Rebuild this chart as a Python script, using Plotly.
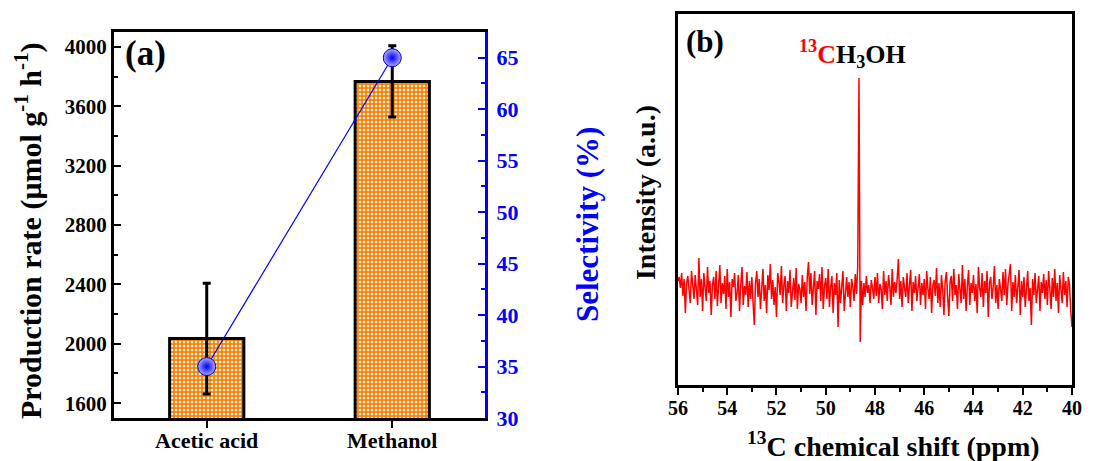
import plotly.graph_objects as go

# ---------------- Data ----------------
categories = ["Acetic acid", "Methanol"]
production_rate = [2035, 3767]
production_err = [373, 240]
selectivity = [35, 65]

left_ticks = [1600, 2000, 2400, 2800, 3200, 3600, 4000]
right_ticks = [30, 35, 40, 45, 50, 55, 60, 65]
shift_ticks = [56, 54, 52, 50, 48, 46, 44, 42, 40]

# NMR spectrum: chemical shift (ppm), step 0.05 from 56 to 40
shift_start = 56.0
shift_step = -0.05
intensity = [
    10, 14, 3, 18, -5, 12, -22, 8, 15, 2, -12, 20, 6, -8, 16, 4, -14, 33, -6, 12,
    -20, 18, 5, -10, 24, -2, 10, -24, 6, 14, -8, 20, -15, 3, 26, -12, 8, -3, 15, -18,
    22, -6, 9, -26, 12, 4, 18, -10, -2, 16, -20, 7, 24, -14, 5, -4, 19, -16, 10, -8,
    14, -12, -34, 8, 20, -6, 12, -18, 3, 22, -10, 6, -22, 16, 1, 27, -8, 11, -14, 4,
    -26, 18, 9, -4, 25, -12, 6, 15, -20, 10, -2, 21, -16, 4, 13, -9, 23, -18, 7, 2,
    -12, 16, -6, 9, -20, 14, 29, -3, 18, -14, 6, 20, -24, 10, 2, 17, -10, 24, -18, 5,
    13, -8, 22, -16, 4, 15, -22, 8, -4, 18, -36, 11, -12, 6, 20, -20, 3, 14, -6, 9,
    -16, 12, 4, -10, 17, -3, 25, 213, -51, 10, -14, 8, -6, 15, -2, 6, -12, 11, 3, -8,
    14, -5, 18, -12, 7, 2, -18, 20, -4, 10, -10, 16, 4, -14, 22, -6, 9, -2, 12, 32,
    -8, 10, -16, 14, 3, -6, 18, -12, 6, 21, -20, 9, -2, 15, -10, 4, 17, -14, 8, -4,
    12, -18, 20, 2, -8, 14, -22, 6, 11, -5, 23, -12, 8, -16, 16, 1, -24, 10, 19, -6,
    -25, 9, 15, -10, 22, -4, 6, -18, 17, 2, -12, 26, -8, 12, -20, 5, 21, -14, 8, -2,
    16, -10, 7, -22, 24, 3, -6, 18, -16, 10, -2, 20, -26, 8, 14, -8, 4, 25, -12, 6,
    -18, 12, 2, -10, 19, -4, 22, -14, 7, 15, 27, -20, 9, -6, 16, -12, 4, 21, -24, 10,
    -6, 14, -16, 8, 20, -10, 3, -34, 12, -4, 18, -12, 6, 15, -20, 9, -2, 17, -8, 11,
    -14, 20, 2, -18, 13, -6, 22, -10, 8, -22, 16, 4, -12, 19, -4, 10, -16, 14, 6, -20,
    -36,
]
shift = [round(shift_start + shift_step * i, 3) for i in range(len(intensity))]

FONT = "Liberation Serif"
BLUE = "#0000FF"

fig = go.Figure()

# Panel (a): bars with error bars
fig.add_trace(go.Bar(
    x=[0, 1], y=production_rate, width=0.4,
    marker=dict(
        color="#FF8000",
        line=dict(color="black", width=3),
        pattern=dict(shape=".", fillmode="replace", bgcolor="#FF8000",
                     fgcolor="white", size=4, solidity=0.3),
    ),
    error_y=dict(type="data", array=production_err, color="black",
                 thickness=3, width=4),
    xaxis="x", yaxis="y", showlegend=False,
))

# Selectivity line
fig.add_trace(go.Scatter(
    x=[0, 1], y=selectivity, mode="lines+markers",
    line=dict(color=BLUE, width=1.2),
    marker=dict(size=18, color="#A8A8FF",
                gradient=dict(type="radial", color="#0000F0"),
                line=dict(width=1, color="#0000C0")),
    xaxis="x", yaxis="y2", showlegend=False,
))

# Panel (b): NMR spectrum
fig.add_trace(go.Scatter(
    x=shift, y=intensity, mode="lines",
    line=dict(color="#FF0000", width=1.5),
    xaxis="x2", yaxis="y3", showlegend=False,
))

tickfont = dict(family=FONT, size=21, color="black", weight="bold")

fig.update_layout(
    width=1105, height=453,
    margin=dict(l=0, r=0, t=0, b=0, pad=0, autoexpand=False),
    paper_bgcolor="white", plot_bgcolor="white",
    font=dict(family=FONT, color="black"),
    xaxis=dict(
        domain=[0.0959, 0.4317], range=[-0.5, 1.5], automargin=False,
        tickvals=[0, 1], ticktext=categories,
        ticks="outside", ticklen=7, tickwidth=2, tickcolor="black",
        ticklabelstandoff=-6,
        tickfont=dict(family=FONT, size=22, color="black", weight="bold"),
        showline=True, linecolor="black", linewidth=3, mirror=True,
        showgrid=False, zeroline=False, fixedrange=True,
        anchor="y",
    ),
    yaxis=dict(
        domain=[0.0949, 0.947], range=[1500, 4100], automargin=False,
        tickvals=left_ticks,
        ticks="inside", ticklen=7, tickwidth=2, tickcolor="black",
        minor=dict(tickvals=[1800, 2200, 2600, 3000, 3400, 3800],
                   ticks="inside", ticklen=4, tickwidth=2, tickcolor="black"),
        tickfont=tickfont,
        showline=True, linecolor="black", linewidth=3,
        showgrid=False, zeroline=False, anchor="x",
    ),
    yaxis2=dict(
        overlaying="y", side="right", anchor="x", automargin=False,
        range=[30, 67.5], tickvals=right_ticks,
        ticks="inside", ticklen=7, tickwidth=2, tickcolor=BLUE,
        ticklabelstandoff=4,
        minor=dict(dtick=2.5, tick0=0, ticks="inside", ticklen=4,
                   tickwidth=2, tickcolor=BLUE),
        tickfont=dict(family=FONT, size=22, color=BLUE, weight="bold"),
        showline=True, linecolor=BLUE, linewidth=3,
        showgrid=False, zeroline=False,
    ),
    xaxis2=dict(
        domain=[0.6063, 0.9629], range=[56, 40], anchor="y3", automargin=False,
        tickvals=shift_ticks,
        ticks="outside", ticklen=7, tickwidth=2, tickcolor="black",
        ticklabelstandoff=-4,
        minor=dict(dtick=1, tick0=0, ticks="outside", ticklen=4,
                   tickwidth=2, tickcolor="black"),
        tickfont=dict(family=FONT, size=20, color="black", weight="bold"),
        showline=True, linecolor="black", linewidth=3, mirror=True,
        showgrid=False, zeroline=False,
    ),
    yaxis3=dict(
        domain=[0.1678, 0.9868], range=[-94, 277], anchor="x2", automargin=False,
        showticklabels=False, ticks="",
        showline=True, linecolor="black", linewidth=3, mirror=True,
        showgrid=False, zeroline=False,
    ),
)

annotations = [
    dict(text="<b>(a)</b>", x=0.104, y=0.947, xref="paper", yref="paper",
         xanchor="left", yanchor="top", showarrow=False,
         font=dict(family=FONT, size=35, color="black")),
    dict(text="<b>(b)</b>", x=0.6118, y=0.969, xref="paper", yref="paper",
         xanchor="left", yanchor="top", showarrow=False,
         font=dict(family=FONT, size=31, color="black")),
    dict(text="<b><span style='color:#FF0000'><sup>13</sup>C</span>H<sub>3</sub>OH</b>",
         x=0.7647, y=0.898, xref="paper", yref="paper",
         xanchor="center", yanchor="middle", showarrow=False,
         font=dict(family=FONT, size=26, color="black")),
    dict(text="<b>Production rate (μmol g<sup>-1</sup> h<sup>-1</sup>)</b>",
         x=0.0181, y=0.5077, xref="paper", yref="paper", textangle=-90,
         xanchor="center", yanchor="middle", showarrow=False,
         font=dict(family=FONT, size=30, color="black")),
    dict(text="<b>Selectivity (%)</b>",
         x=0.5249, y=0.521, xref="paper", yref="paper", textangle=-90,
         xanchor="center", yanchor="middle", showarrow=False,
         font=dict(family=FONT, size=31, color=BLUE)),
    dict(text="<b>Intensity (a.u.)</b>",
         x=0.5765, y=0.5916, xref="paper", yref="paper", textangle=-90,
         xanchor="center", yanchor="middle", showarrow=False,
         font=dict(family=FONT, size=28, color="black")),
    dict(text="<b><sup>13</sup>C chemical shift (ppm)</b>",
         x=0.801, y=0.036, xref="paper", yref="paper",
         xanchor="center", yanchor="middle", showarrow=False,
         font=dict(family=FONT, size=28, color="black")),
]
fig.update_layout(annotations=annotations)

fig.write_html("out.html")
